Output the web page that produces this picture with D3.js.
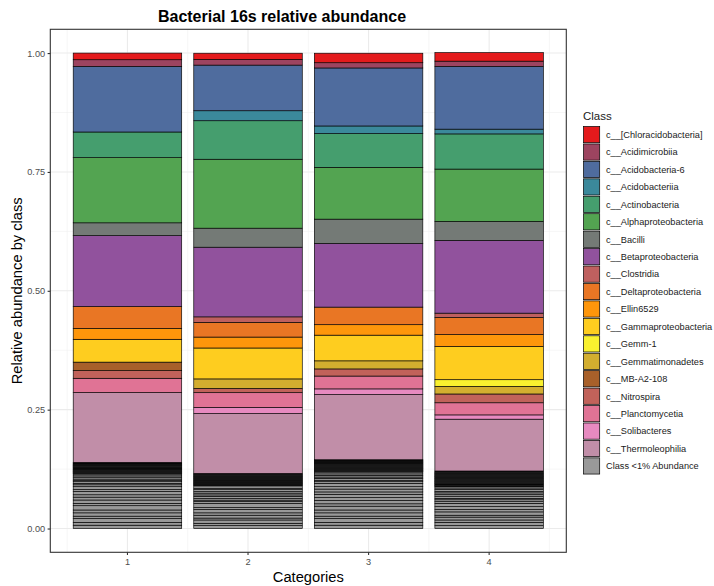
<!DOCTYPE html>
<html>
<head>
<meta charset="utf-8">
<script src="https://cdn.jsdelivr.net/npm/d3@7"></script>
<style>
  body { margin: 0; background: #fff; }
  svg { font-family: "Liberation Sans", Arial, sans-serif; }
</style>
</head>
<body>
<svg id="chart" width="714" height="586"></svg>
<script>
const categories = ["1", "2", "3", "4"];

const classNames = [
  "c__[Chloracidobacteria]", "c__Acidimicrobiia", "c__Acidobacteria-6", "c__Acidobacteriia",
  "c__Actinobacteria", "c__Alphaproteobacteria", "c__Bacilli", "c__Betaproteobacteria",
  "c__Clostridia", "c__Deltaproteobacteria", "c__Ellin6529", "c__Gammaproteobacteria",
  "c__Gemm-1", "c__Gemmatimonadetes", "c__MB-A2-108", "c__Nitrospira",
  "c__Planctomycetia", "c__Solibacteres", "c__Thermoleophilia"
];
const classColors = [
  "#E41A1C", "#9D4460", "#4F6C9E", "#3B899B",
  "#459E6E", "#53A451", "#747A76", "#91529D",
  "#BF605F", "#E97624", "#FE960B", "#FECD1F",
  "#F9F12F", "#D3AE2F", "#A8602A", "#C1625A",
  "#E07395", "#E78AC0", "#C18EA8"
];
const lowLabel = "Class <1% Abundance";
const lowColor = "#999999";

// abundance of each named class per sample (legend order)
const sample1 = [0.014, 0.014, 0.138, 0, 0.054, 0.137, 0.027, 0.149, 0, 0.046, 0.023, 0.048, 0, 0, 0.018, 0.016, 0.030, 0, 0.147];
const sample2 = [0.013, 0.012, 0.096, 0.021, 0.081, 0.145, 0.040, 0.1465, 0.0115, 0.031, 0.023, 0.065, 0, 0.020, 0, 0.009, 0.031, 0.013, 0.126];
const sample3 = [0.020, 0.011, 0.122, 0.016, 0.071, 0.109, 0.051, 0.134, 0, 0.037, 0.022, 0.054, 0, 0.017, 0, 0.015, 0.027, 0.012, 0.137];
const sample4 = [0.018, 0.011, 0.132, 0.010, 0.074, 0.110, 0.040, 0.153, 0.009, 0.036, 0.025, 0.070, 0.014, 0.016, 0, 0.0185, 0.0255, 0.009, 0.109];

// the many classes under 1%, stacked from the bottom up
const low1 = [0.007, 0.006, 0.008, 0.005, 0.007, 0.006, 0.009, 0.005, 0.007, 0.006, 0.005, 0.007, 0.004, 0.006, 0.004,
  0.003, 0.0035, 0.0025, 0.003, 0.004, 0.0028, 0.0037,
  0.0012, 0.001, 0.0009, 0.0011, 0.001, 0.0008, 0.0012, 0.001, 0.0009, 0.0011, 0.001, 0.0013, 0.0009, 0.001, 0.0012, 0.0011, 0.0008,
  0.001, 0.0012, 0.001, 0.0011, 0.0015, 0.0012];
const low2 = [0.006, 0.005, 0.007, 0.004, 0.006, 0.005, 0.007, 0.004, 0.0087,
  0.004, 0.003, 0.0035, 0.0045, 0.003, 0.0038, 0.0032, 0.004, 0.003, 0.005,
  0.0012, 0.0009, 0.001, 0.0011, 0.0008, 0.001, 0.0012, 0.0009, 0.0011, 0.001, 0.0013, 0.0008, 0.001, 0.0012, 0.0009, 0.0011,
  0.001, 0.0012, 0.0009, 0.001, 0.0011, 0.0013, 0.001, 0.0012, 0.0008];
const low3 = [0.007, 0.006, 0.008, 0.005, 0.007, 0.006, 0.008, 0.005, 0.007, 0.006, 0.007, 0.005, 0.006, 0.005, 0.007,
  0.0035, 0.003, 0.004, 0.0028, 0.0036, 0.003, 0.0038,
  0.001, 0.0012, 0.0009, 0.0011, 0.001, 0.0013, 0.0008, 0.001, 0.0012, 0.0009, 0.0011, 0.001, 0.0012, 0.0009, 0.001, 0.0011,
  0.0008, 0.0012, 0.001, 0.0011, 0.0009, 0.0012, 0.001, 0.0013, 0.0008];
const low4 = [0.006, 0.007, 0.005, 0.006, 0.004, 0.007, 0.005, 0.006, 0.007,
  0.0035, 0.004, 0.003, 0.0045, 0.0032, 0.0038, 0.003, 0.004, 0.0033, 0.0027,
  0.0012, 0.001, 0.0011, 0.0009, 0.0013, 0.001, 0.0008, 0.0012, 0.0011, 0.001, 0.0009, 0.0012, 0.001, 0.0011, 0.0013, 0.0009,
  0.001, 0.0012, 0.0011, 0.0008, 0.001, 0.0012, 0.0011, 0.001, 0.0013, 0.0009, 0.0012, 0.001, 0.0016, 0.0016];

const yTicks = [0, 0.25, 0.5, 0.75, 1];
const yMinor = [0.125, 0.375, 0.625, 0.875];

const samples = [sample1, sample2, sample3, sample4];
const lows = [low1, low2, low3, low4];

const svg = d3.select("#chart");
const panel = { left: 50.3, right: 566.3, top: 29.3, bottom: 552.3 };

const x = d3.scaleBand()
  .domain(categories)
  .range([panel.left, panel.right])
  .paddingInner(0.1)
  .paddingOuter(0.19);

const y = d3.scaleLinear()
  .domain([-0.05, 1.05])
  .range([panel.bottom, panel.top]);

const step = x.step();
const centers = categories.map(c => x(c) + x.bandwidth() / 2);
const xMinor = [centers[0] - step / 2].concat(centers.map(c => c + step / 2));

// grid
const grid = svg.append("g");
grid.selectAll(".hminor").data(yMinor).enter().append("line")
  .attr("x1", panel.left).attr("x2", panel.right)
  .attr("y1", d => y(d)).attr("y2", d => y(d))
  .attr("stroke", "#F0F0F0").attr("stroke-width", 0.6);
grid.selectAll(".vminor").data(xMinor).enter().append("line")
  .attr("y1", panel.top).attr("y2", panel.bottom)
  .attr("x1", d => d).attr("x2", d => d)
  .attr("stroke", "#F0F0F0").attr("stroke-width", 0.6);
grid.selectAll(".hmajor").data(yTicks).enter().append("line")
  .attr("x1", panel.left).attr("x2", panel.right)
  .attr("y1", d => y(d)).attr("y2", d => y(d))
  .attr("stroke", "#EBEBEB").attr("stroke-width", 1.1);
grid.selectAll(".vmajor").data(centers).enter().append("line")
  .attr("y1", panel.top).attr("y2", panel.bottom)
  .attr("x1", d => d).attr("x2", d => d)
  .attr("stroke", "#EBEBEB").attr("stroke-width", 1.1);

// stacked segments, <1% at the bottom, first class on top
const segs = [];
categories.forEach((cat, i) => {
  let y0 = 0;
  lows[i].forEach(v => {
    segs.push({ cat, y0, y1: y0 + v, fill: lowColor });
    y0 += v;
  });
  for (let k = classNames.length - 1; k >= 0; k--) {
    const v = samples[i][k];
    if (!v) continue;
    segs.push({ cat, y0, y1: y0 + v, fill: classColors[k] });
    y0 += v;
  }
});

svg.append("g").selectAll("rect")
  .data(segs)
  .enter()
  .append("rect")
  .attr("x", d => x(d.cat))
  .attr("width", x.bandwidth())
  .attr("y", d => y(d.y1))
  .attr("height", d => y(d.y0) - y(d.y1))
  .attr("fill", d => d.fill)
  .attr("stroke", "black")
  .attr("stroke-width", 0.65);

// panel border
svg.append("rect")
  .attr("x", panel.left).attr("y", panel.top)
  .attr("width", panel.right - panel.left).attr("height", panel.bottom - panel.top)
  .attr("fill", "none").attr("stroke", "#333333").attr("stroke-width", 1.1);

// axes
const yAxis = svg.append("g")
  .attr("transform", `translate(${panel.left},0)`)
  .call(d3.axisLeft(y).tickValues(yTicks).tickFormat(d3.format(".2f")).tickSize(2.7).tickPadding(2.5));
const xAxis = svg.append("g")
  .attr("transform", `translate(0,${panel.bottom})`)
  .call(d3.axisBottom(x).tickSize(2.7).tickPadding(3));
[yAxis, xAxis].forEach(a => {
  a.select(".domain").remove();
  a.selectAll(".tick line").attr("stroke", "#333333").attr("stroke-width", 1.1);
  a.selectAll(".tick text").attr("fill", "#4D4D4D").style("font-size", "9.2px")
    .style("font-family", "'Liberation Sans', Arial, sans-serif");
});

// titles
svg.append("text")
  .attr("x", 282).attr("y", 21.5)
  .attr("text-anchor", "middle")
  .style("font-size", "16px").style("font-weight", "bold")
  .text("Bacterial 16s relative abundance");

svg.append("text")
  .attr("x", (panel.left + panel.right) / 2).attr("y", 581.5)
  .attr("text-anchor", "middle")
  .style("font-size", "14.7px")
  .text("Categories");

svg.append("text")
  .attr("transform", "rotate(-90)")
  .attr("x", -(panel.top + panel.bottom) / 2).attr("y", 22)
  .attr("text-anchor", "middle")
  .style("font-size", "14.7px")
  .text("Relative abundance by class");

// legend
const legendItems = classNames.map((n, i) => ({ name: n, color: classColors[i] }))
  .concat([{ name: lowLabel, color: lowColor }]);
const legend = svg.append("g").attr("transform", "translate(583,126)");
legend.append("text")
  .attr("x", 0).attr("y", -6)
  .style("font-size", "11.5px")
  .attr("fill", "#1A1A1A")
  .text("Class");
const rowH = 17.44;
const item = legend.selectAll(".item")
  .data(legendItems)
  .enter()
  .append("g")
  .attr("transform", (d, i) => `translate(0,${i * rowH})`);
item.append("rect")
  .attr("x", 0.5).attr("y", 0.5)
  .attr("width", 16.2).attr("height", 16.2)
  .attr("fill", d => d.color)
  .attr("stroke", "black")
  .attr("stroke-width", 0.7);
item.append("text")
  .attr("x", 23).attr("y", 8.7)
  .attr("dy", "0.35em")
  .style("font-size", "9.2px")
  .attr("fill", "#1A1A1A")
  .text(d => d.name);
</script>
</body>
</html>
